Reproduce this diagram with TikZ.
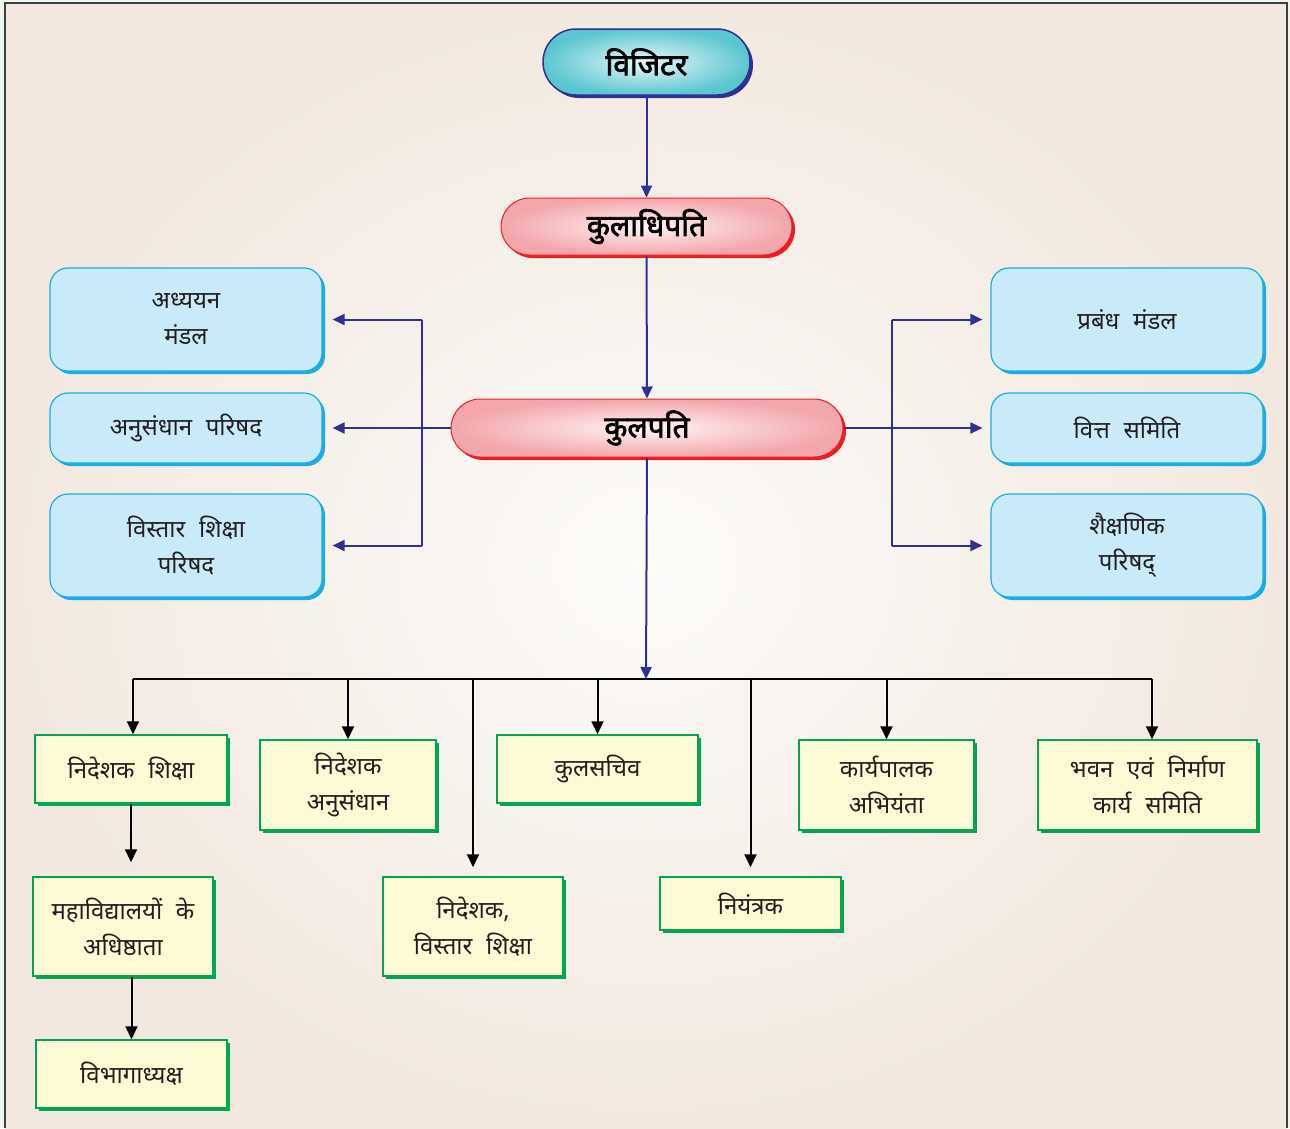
\documentclass[tikz,border=0pt]{standalone}
\usepackage{fontspec}
\newfontfamily\dev[Script=Devanagari, WordSpace=2.2]{Noto Sans}
\newfontfamily\devb[Script=Devanagari, FakeBold=2.5]{Noto Sans}
\usetikzlibrary{shapes.misc,shadows,arrows.meta}
\definecolor{navy}{HTML}{2E3192}
\definecolor{redb}{HTML}{ED1C24}
\definecolor{pinkout}{HTML}{F3A6AB}
\definecolor{pinkin}{HTML}{FFF4F4}
\definecolor{cyanout}{HTML}{5CC6D0}
\definecolor{cyanin}{HTML}{E8F8F9}
\definecolor{bfill}{HTML}{C9EAF9}
\definecolor{bedge}{HTML}{1DABE3}
\definecolor{yfill}{HTML}{FEFAD6}
\definecolor{gedge}{HTML}{00A651}
\definecolor{bgout}{HTML}{F2E8DF}
\definecolor{bgin}{HTML}{FCFBF9}
\definecolor{outside}{HTML}{EEF5EA}
\definecolor{txt}{HTML}{231F20}
\definecolor{frame}{HTML}{3F3F3F}
\tikzset{
  every node/.style={text=txt},
  boxfont/.style={font=\dev\fontsize{24}{36}\selectfont, align=center},
  titlefont/.style={font=\devb\fontsize{30}{36}\selectfont, text=black},
  pillv/.style={rounded rectangle, draw=navy, line width=1.5pt, inner color=cyanin, outer color=cyanout,
    drop shadow={shadow xshift=3pt, shadow yshift=-3pt, opacity=1, fill=navy}, inner sep=0pt, titlefont},
  pillr/.style={rounded rectangle, draw=redb, line width=1pt, inner color=pinkin, outer color=pinkout,
    drop shadow={shadow xshift=3pt, shadow yshift=-3pt, opacity=1, fill=redb}, inner sep=0pt, titlefont},
  bbox/.style={rectangle, rounded corners=18pt, draw=bedge, line width=1.2pt, fill=bfill,
    drop shadow={shadow xshift=3pt, shadow yshift=-3pt, opacity=1, fill=bedge}, minimum width=272, inner sep=0pt, boxfont},
  ybox/.style={rectangle, draw=gedge, line width=1.5pt, fill=yfill,
    drop shadow={shadow xshift=3pt, shadow yshift=-3pt, opacity=1, fill=gedge}, inner sep=0pt, boxfont},
  bline/.style={draw=navy, line width=2pt},
  barrow/.style={bline, -{Triangle[width=11pt,length=12pt]}},
  kline/.style={draw=black, line width=2pt},
  karrow/.style={kline, -{Triangle[width=12pt,length=13pt]}},
}
\begin{document}
\begin{tikzpicture}[x=1pt, y=-1pt]
\useasboundingbox (0,0) rectangle (1290,1128);
\fill[outside] (0,0) rectangle (1290,1128);
\shade[inner color=bgin, outer color=bgout] (5,3) rectangle (1287,1128);
\draw[frame, line width=2pt] (5,1128) -- (5,3) -- (1287,3) -- (1287,1128);

% top hierarchy
\node[pillv, minimum width=207, minimum height=66] (vis) at (646.5,62) {विजिटर};
\node[pillr, minimum width=291, minimum height=57] (kdp) at (646.5,226.5) {कुलाधिपति};
\node[pillr, minimum width=392, minimum height=58] (kp) at (647,428) {कुलपति};

% left boards
\node[bbox, minimum height=103] (lb1) at (186,319.5) {अध्ययन\\मंडल};
\node[bbox, minimum height=70] (lb2) at (186,428) {अनुसंधान परिषद};
\node[bbox, minimum height=103] (lb3) at (186,545.5) {विस्तार शिक्षा\\परिषद};
% right boards
\node[bbox, minimum height=103] (rb1) at (1127,319.5) {प्रबंध मंडल};
\node[bbox, minimum height=70] (rb2) at (1127,428) {वित्त समिति};
\node[bbox, minimum height=103] (rb3) at (1127,545.5) {शैक्षणिक\\परिषद्};

% officers
\node[ybox, minimum width=192, minimum height=68] (nds) at (131,769) {निदेशक शिक्षा};
\node[ybox, minimum width=176, minimum height=90] (nda) at (348,785) {निदेशक\\अनुसंधान};
\node[ybox, minimum width=201, minimum height=68] (ks) at (597.5,769) {कुलसचिव};
\node[ybox, minimum width=175, minimum height=90] (kpa) at (886.5,785) {कार्यपालक\\अभियंता};
\node[ybox, minimum width=219, minimum height=90] (bh) at (1147.5,785) {भवन एवं निर्माण\\कार्य समिति};
\node[ybox, minimum width=180, minimum height=99] (mv) at (123,926.5) {महाविद्यालयों के\\अधिष्ठाता};
\node[ybox, minimum width=180, minimum height=99] (nvs) at (473,926.5) {निदेशक,\\विस्तार शिक्षा};
\node[ybox, minimum width=181, minimum height=53] (niy) at (750.5,903.5) {नियंत्रक};
\node[ybox, minimum width=191, minimum height=68] (vbh) at (131.5,1074) {विभागाध्यक्ष};

% connectors: top
\draw[barrow] (vis.south) -- (kdp.north);
\draw[barrow] (kdp.south) -- (kp.north);

\coordinate (lbus) at (422,428);
\coordinate (rbus) at (892,428);
\coordinate (hbus) at (646,679);

\draw[barrow, shorten >=10pt] (kp.west) -- (lb2.east);
\draw[bline] (lbus |- lb1.east) -- (lbus |- lb3.east);
\draw[barrow, shorten >=10pt] (lbus |- lb1.east) -- (lb1.east);
\draw[barrow, shorten >=10pt] (lbus |- lb3.east) -- (lb3.east);

\draw[barrow, shorten >=8pt] (kp.east) -- (rb2.west);
\draw[bline] (rbus |- rb1.west) -- (rbus |- rb3.west);
\draw[barrow, shorten >=8pt] (rbus |- rb1.west) -- (rb1.west);
\draw[barrow, shorten >=8pt] (rbus |- rb3.west) -- (rb3.west);

\draw[barrow] (kp.south) -- (hbus);

% bottom bus
\coordinate (bhx) at ([xshift=4.5pt]bh.north);
\coordinate (ndx) at ([xshift=2pt]nds.north);
\draw[kline] (ndx |- hbus) -- (bhx |- hbus);
\draw[karrow] (ndx |- hbus) -- (ndx);
\draw[karrow] (nda.north |- hbus) -- (nda.north);
\draw[karrow, shorten >=9pt] (nvs.north |- hbus) -- (nvs.north);
\draw[karrow] (ks.north |- hbus) -- (ks.north);
\draw[karrow, shorten >=9pt] (niy.north |- hbus) -- (niy.north);
\draw[karrow] (kpa.north |- hbus) -- (kpa.north);
\draw[karrow] (bhx |- hbus) -- (bhx);

\draw[karrow, shorten >=14pt] (nds.south) -- (nds.south |- mv.north);
\draw[karrow] (vbh.north |- mv.south) -- (vbh.north);
\end{tikzpicture}
\end{document}
